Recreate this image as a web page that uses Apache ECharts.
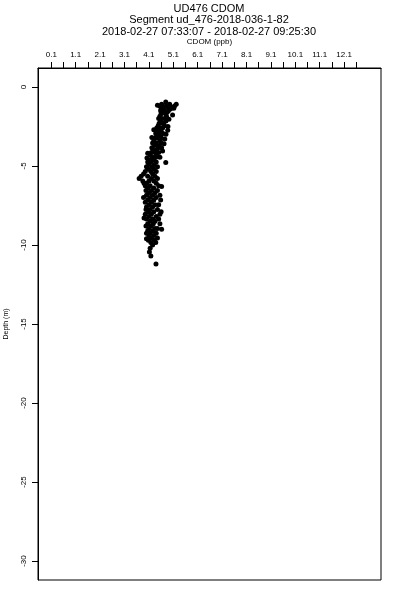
<!DOCTYPE html>
<html><head><meta charset="utf-8">
<script src="https://cdn.jsdelivr.net/npm/echarts@6/dist/echarts.min.js"></script>
<style>html,body{margin:0;padding:0;background:#fff}#c{width:400px;height:600px}</style>
</head><body><div id="c"></div>
<script>
var titleLines = ["UD476 CDOM", "Segment ud_476-2018-036-1-82", "2018-02-27 07:33:07 - 2018-02-27 09:25:30"];
var xLabelValues = [0.1,1.1,2.1,3.1,4.1,5.1,6.1,7.1,8.1,9.1,10.1,11.1,12.1];
var xTickValues = [0.1,0.6,1.1,1.6,2.1,2.6,3.1,3.6,4.1,4.6,5.1,5.6,6.1,6.6,7.1,7.6,8.1,8.6,9.1,9.6,10.1,10.6,11.1,11.6,12.1,12.6];
var yTickValues = [0,-5,-10,-15,-20,-25,-30];
var depth = [
-0.95,
-1.10,-1.10,-1.10,
-1.20,-1.20,-1.20,
-1.30,-1.30,-1.30,
-1.40,-1.40,
-1.50,-1.50,-1.50,
-1.60,-1.60,
-1.70,-1.70,-1.77,
-1.85,-1.85,
-2.00,-2.00,-2.00,
-2.15,-2.15,
-2.30,-2.30,-2.30,
-2.45,-2.45,
-2.60,-2.60,-2.60,
-2.74,
-2.80,-2.80,
-2.95,-2.95,-2.95,
-3.10,-3.10,
-3.25,-3.25,-3.25,
-3.40,-3.40,
-3.55,-3.55,-3.55,
-3.70,-3.70,
-3.85,-3.85,-3.85,
-4.00,-4.00,
-4.15,-4.15,-4.15,
-4.30,-4.30,
-4.45,-4.45,-4.45,
-4.60,-4.60,
-4.78,
-4.75,-4.75,-4.75,
-4.90,-4.90,
-5.05,-5.05,-5.05,
-5.20,-5.20,
-5.35,-5.35,-5.35,
-5.50,-5.50,
-5.65,-5.65,-5.65,
-5.80,-5.80,-5.80,
-5.95,-5.95,-5.95,
-6.10,-6.10,-6.10,
-6.25,-6.25,-6.25,
-6.40,-6.40,
-6.55,-6.55,-6.55,
-6.70,-6.70,
-6.85,-6.85,-6.85,
-7.00,-7.00,
-7.15,-7.15,-7.15,
-7.30,-7.30,
-7.45,-7.45,-7.45,
-7.60,-7.60,
-7.75,-7.75,-7.75,
-7.90,-7.90,
-8.05,-8.05,-8.05,
-8.20,-8.20,
-8.35,-8.35,-8.35,
-8.50,-8.50,
-8.65,-8.65,-8.65,
-8.80,-8.80,
-8.95,-8.95,-8.95,
-9.10,-9.10,
-9.25,-9.25,-9.25,
-9.40,-9.40,
-9.55,-9.55,
-9.70,-9.70,
-9.85,-9.85,
-10.00,
-10.20,
-10.45,
-10.70,
-11.20,
-1.15,-1.35,-2.05,-2.50,-2.70,-3.00,-3.20,-3.30,-3.60,-4.05,-4.20,-4.50,
-6.30,-7.00,-7.90,-8.30,-9.00,-9.60
];
var cdom = [
4.79,
5.22,4.62,4.95,
5.15,4.55,4.80,
5.05,4.70,4.88,
4.98,4.60,
4.90,4.72,4.58,
4.85,4.66,
4.78,4.60,5.07,
4.82,4.55,
4.75,4.62,4.50,
4.80,4.58,
4.70,4.52,4.64,
4.74,4.48,
4.66,4.55,4.42,
4.87,
4.60,4.45,
4.68,4.50,4.38,
4.58,4.42,
4.62,4.35,4.50,
4.55,4.30,
4.60,4.40,4.25,
4.52,4.33,
4.48,4.22,4.62,
4.40,4.28,
4.50,4.20,4.35,
4.42,4.15,
4.38,4.25,4.55,
4.30,4.12,
4.79,
4.40,4.18,4.05,
4.32,4.10,
4.45,4.22,4.00,
4.30,4.08,
4.40,3.95,4.18,
4.25,3.88,
4.35,4.05,3.78,
4.20,3.70,4.45,
4.10,3.85,4.30,
4.00,4.40,3.90,
4.15,4.50,3.95,
4.05,4.30,
4.20,3.98,4.45,
4.10,4.35,
4.25,4.00,4.55,
4.15,4.40,
4.05,4.30,4.58,
4.20,3.95,
4.35,4.10,4.50,
4.00,4.25,
4.15,4.45,3.98,
4.30,4.08,
4.20,4.55,3.95,
4.10,4.40,
4.25,4.00,4.50,
4.15,4.35,
4.05,4.28,4.55,
4.20,3.98,
4.35,4.10,4.45,
4.05,4.25,
4.15,4.40,4.00,
4.30,4.10,
4.20,4.45,
4.08,4.32,
4.18,4.38,
4.25,
4.15,
4.12,
4.18,
4.39,
4.45,5.12,4.92,4.88,4.30,4.80,4.22,4.75,4.72,4.66,4.05,4.02,
4.62,3.88,4.60,3.90,4.62,4.00
];
var points = cdom.map(function(v,i){return [v, depth[i]];});
var FONT = 'Liberation Sans, Arial, sans-serif';
var chart = echarts.init(document.getElementById('c'), null, {renderer:'canvas'});
chart.setOption({
  animation:false,
  backgroundColor:'#fff',
  title:{text:titleLines.join('\n'), left:209, textAlign:'center', top:3, padding:0,
    textStyle:{fontFamily:FONT, fontSize:11, fontWeight:'normal', color:'#000', lineHeight:11.5}},
  grid:{left:38, right:19, top:68, bottom:20, containLabel:false, outerBoundsMode:'none',
    show:true, borderColor:'#000', borderWidth:1, backgroundColor:'transparent'},
  xAxis:{type:'value', position:'top', min:-0.445, max:13.61,
    name:'CDOM (ppb)', nameLocation:'middle', nameGap:22,
    nameTextStyle:{fontFamily:FONT, fontSize:8, color:'#000'},
    axisLine:{show:true, onZero:false, lineStyle:{color:'#000', width:1}},
    axisTick:{show:true, length:6, inside:false, customValues:xTickValues, lineStyle:{color:'#000'}},
    axisLabel:{customValues:xLabelValues, margin:9, fontFamily:FONT, fontSize:8, color:'#000',
      formatter:function(v){return v.toFixed(1);}},
    splitLine:{show:false}},
  yAxis:{type:'value', min:-31.2, max:1.2,
    name:'Depth (m)', nameLocation:'middle', nameGap:28, nameRotate:90,
    nameTextStyle:{fontFamily:FONT, fontSize:7, color:'#000'},
    axisLine:{show:true, onZero:false, lineStyle:{color:'#000', width:1}},
    axisTick:{show:true, length:6, inside:false, customValues:yTickValues, lineStyle:{color:'#000'}},
    axisLabel:{customValues:yTickValues, rotate:90, margin:10, fontFamily:FONT, fontSize:8, color:'#000'},
    splitLine:{show:false}},
  series:[{type:'scatter', data:points, symbol:'circle', symbolSize:5,
    itemStyle:{color:'#000', opacity:1}}]
});
</script></body></html>
